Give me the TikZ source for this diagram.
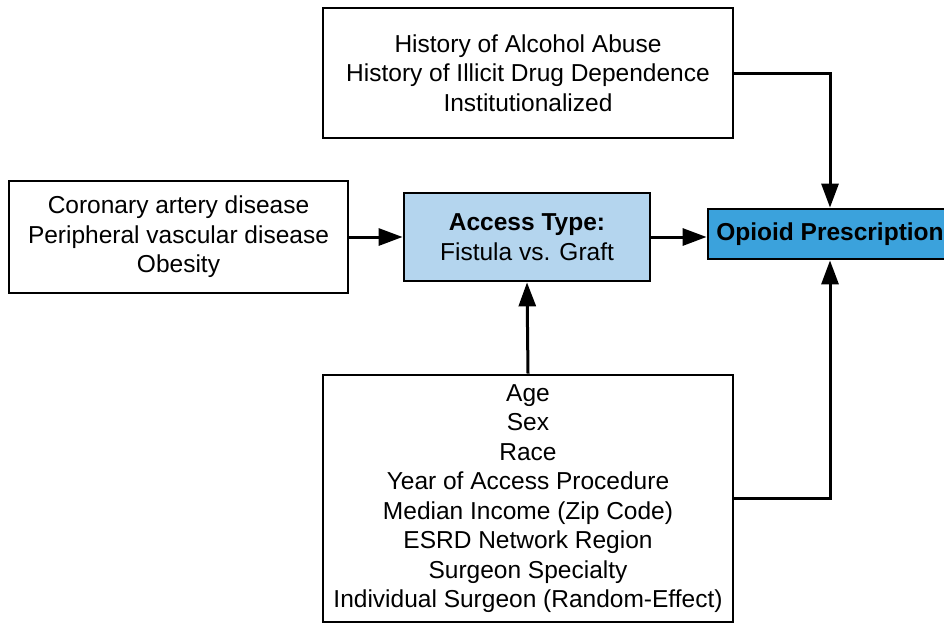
\documentclass[tikz,border=0pt]{standalone}
\usepackage{fontspec}
\setmainfont{Liberation Sans}
\usetikzlibrary{arrows.meta}
\definecolor{lightacc}{HTML}{B4D5EE}
\definecolor{opblue}{HTML}{3BA2DC}
\begin{document}
\begin{tikzpicture}[x=1pt,y=-1pt,
  box/.style={draw=black,line width=2.8pt,align=center,inner sep=0pt,
    font=\fontsize{24.5}{29.5}\selectfont},
  conn/.style={line width=3pt,-{Triangle[length=24pt,width=17pt]}}]
\useasboundingbox (0,0) rectangle (944,624);
\node[box,minimum width=410,minimum height=130] (top) at (528,73)
  {History of Alcohol Abuse\\History of Illicit Drug Dependence\\Institutionalized};
\node[box,minimum width=339,minimum height=112] (left) at (178.5,237)
  {Coronary artery disease\\Peripheral vascular disease\\Obesity};
\node[box,fill=lightacc,minimum width=246,minimum height=88] (acc) at (527,237)
  {\textbf{Access Type:}\\Fistula vs. Graft};
\node[box,fill=opblue,minimum width=244,minimum height=50] (op) at (830,234)
  {\textbf{Opioid Prescription}};
\node[box,minimum width=410,minimum height=247] (bot) at (528,498.5)
  {Age\\Sex\\Race\\Year of Access Procedure\\Median Income (Zip Code)\\ESRD Network Region\\Surgeon Specialty\\Individual Surgeon (Random-Effect)};
\draw[conn] (top.east) -| (op.north);
\draw[conn] (left.east) -- (acc.west);
\draw[conn] (acc.east) -- (acc.east -| op.west);
\draw[conn] (bot.north) -- (acc.south);
\draw[conn] (bot.east) -| (op.south);
\end{tikzpicture}
\end{document}
